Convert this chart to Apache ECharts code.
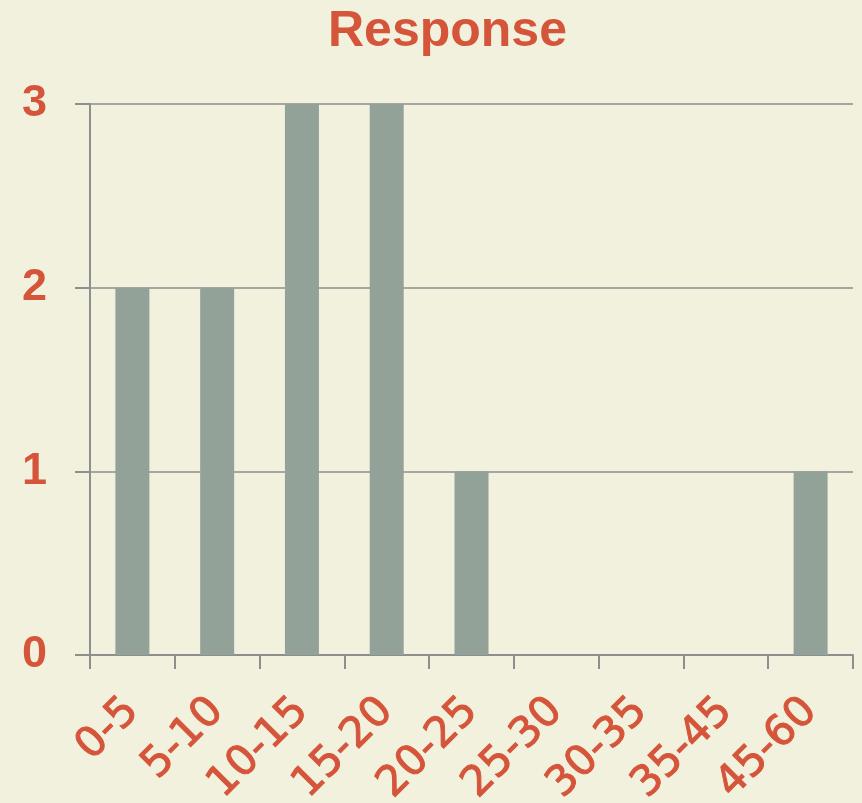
<!DOCTYPE html>
<html><head><meta charset="utf-8">
<script src="https://cdn.jsdelivr.net/npm/echarts@6/dist/echarts.min.js"></script>
<style>html,body{margin:0;padding:0;background:#f2f1dd;}#c{width:862px;height:803px;}</style>
</head><body><div id="c"></div>
<script>
var categories = ['0-5','5-10','10-15','15-20','20-25','25-30','30-35','35-45','45-60'];
var values = [2,2,3,3,1,0,0,0,1];
var yTicks = [0,1,2,3];
var titleText = 'Response';

var chart = echarts.init(document.getElementById('c'));
var red = '#d5553b';
chart.setOption({
  backgroundColor: '#f2f1dd',
  animation: false,
  title: {
    text: titleText, left: 323, top: 2,
    textStyle: {fontFamily: 'Liberation Sans', fontWeight: 'bold', fontSize: 50, color: red}
  },
  grid: {left: 90, right: 9, top: 104, bottom: 148, containLabel: false, outerBoundsMode: 'none'},
  xAxis: {
    type: 'category', data: categories,
    axisLine: {lineStyle: {color: '#8e8e8e', width: 2}},
    axisTick: {show: true, length: 14, lineStyle: {color: '#8e8e8e', width: 2}, alignWithLabel: false},
    axisLabel: {rotate: 45, margin: 50, color: red, fontSize: 42, fontFamily: 'DejaVu Sans', interval: 0,
      textBorderColor: red, textBorderWidth: 1}
  },
  yAxis: {
    type: 'value', min: 0, max: 3, interval: 1,
    axisLine: {show: true, lineStyle: {color: '#8e8e8e', width: 2}},
    axisTick: {show: true, length: 15, lineStyle: {color: '#8e8e8e', width: 2}},
    splitLine: {lineStyle: {color: '#8e8e8e', width: 1.5}},
    axisLabel: {margin: 43, color: red, fontSize: 45, fontFamily: 'Liberation Sans', fontWeight: 'bold',
      formatter: function(v){ return yTicks.indexOf(v) >= 0 ? String(v) : ''; }}
  },
  series: [{
    type: 'bar', data: values, barWidth: 34,
    itemStyle: {color: '#93a298'}
  }]
});
</script></body></html>
